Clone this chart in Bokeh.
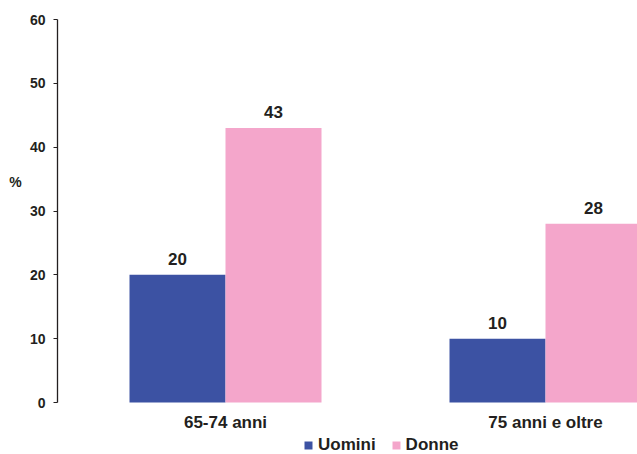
from bokeh.plotting import figure
from bokeh.models import (ColumnDataSource, Range1d, FixedTicker, Label, Legend, LegendItem)
from bokeh.core.properties import value
from bokeh.embed import file_html
from bokeh.resources import INLINE

categories = ["65-74 anni", "75 anni e oltre"]
uomini = [20, 10]
donne = [43, 28]
series_names = ["Uomini", "Donne"]
y_ticks = [0, 10, 20, 30, 40, 50, 60]

BLUE = "#3C52A3"
PINK = "#F4A6CB"
TXT = "#231F20"
FONT = "Liberation Sans"

pos = [i + 1 for i in range(len(categories))]
bw = 0.3
axis_x = 0.475  # where the value axis crosses the category scale
src = ColumnDataSource(dict(
    xu=[p - bw / 2 for p in pos], xd=[p + bw / 2 for p in pos],
    u=uomini, d=donne,
    ul=[str(v) for v in uomini], dl=[str(v) for v in donne],
))
cat_src = ColumnDataSource(dict(x=pos, y=[0] * len(pos), t=categories))

# frame fills the canvas; the value axis is pinned inside it
p = figure(width=637, height=454, output_backend="svg", toolbar_location=None,
           x_range=Range1d(0.296875, 2.2875), y_range=Range1d(-8.146, 62.977),
           min_border_left=0, min_border_right=0, min_border_top=0, min_border_bottom=0)
p.outline_line_color = None
p.xgrid.visible = False
p.ygrid.visible = False
p.background_fill_color = "white"
p.xaxis.visible = False

ru = p.vbar(x="xu", top="u", bottom=0, width=bw, source=src, fill_color=BLUE, line_color=None)
rd = p.vbar(x="xd", top="d", bottom=0, width=bw, source=src, fill_color=PINK, line_color=None)

for xcol, ycol, lcol in (("xu", "u", "ul"), ("xd", "d", "dl")):
    p.text(x=xcol, y=ycol, text=lcol, source=src, text_align="center",
           text_baseline="alphabetic", y_offset=-16, text_font=value(FONT),
           text_font_style="bold", text_font_size="17px", text_color=TXT)

# category labels under the bars
p.text(x="x", y="y", text="t", source=cat_src, text_align="center",
       text_baseline="alphabetic", y_offset=20, text_font=value(FONT),
       text_font_style="bold", text_font_size="17px", text_color=TXT)

ya = p.yaxis[0]
ya.fixed_location = axis_x
ya.ticker = FixedTicker(ticks=y_ticks)
ya.bounds = (0, 60)
ya.minor_tick_line_color = None
ya.major_tick_in = 0
ya.major_tick_out = 4
ya.major_label_standoff = 8
ya.axis_line_color = TXT
ya.major_tick_line_color = TXT
ya.axis_line_width = 1.3
ya.major_label_text_font = FONT
ya.major_label_text_font_style = "bold"
ya.major_label_text_font_size = "14px"
ya.major_label_text_color = TXT

p.add_layout(Label(x=15, y=34.5, x_units="screen", y_units="data", text="%",
                   text_align="center", text_baseline="middle", text_font=FONT,
                   text_font_style="bold", text_font_size="14px", text_color=TXT))

legend = Legend(items=[LegendItem(label=series_names[0], renderers=[ru]),
                       LegendItem(label=series_names[1], renderers=[rd])],
                orientation="horizontal", location=(303, -1),
                glyph_width=10, glyph_height=10, label_standoff=5, spacing=15,
                padding=0, margin=0, border_line_color=None, background_fill_alpha=0,
                label_text_font=FONT, label_text_font_style="bold",
                label_text_font_size="17px", label_text_color=TXT)
p.add_layout(legend, "center")

open("out.html", "w").write(file_html(p, INLINE))
